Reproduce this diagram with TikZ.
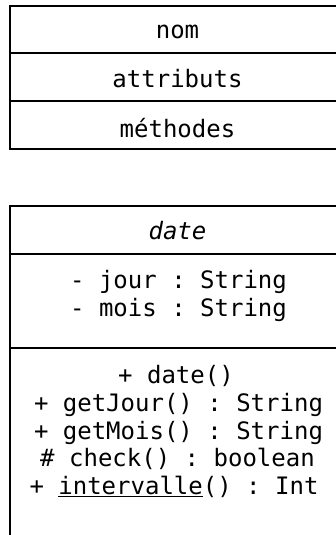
\documentclass[tikz,border=0pt]{standalone}
\usepackage{fontspec}
\setmonofont{DejaVu Sans Mono}
\begin{document}
\begin{tikzpicture}[x=1pt,y=-1pt,line width=2.3pt,
		txt/.style={anchor=base,inner sep=0pt,font=\fontsize{24}{28}\selectfont\ttfamily}]
	\useasboundingbox (0,0) rectangle (336,535);
	\clip (0,0) rectangle (336,535);
	% modele
	\draw (10,6) rectangle (345,149);
	\draw (10,53) -- (345,53);
	\draw (10,101) -- (345,101);
	\node[txt] (nom) at (177.5,39) {nom};
	\node[txt] (attr) at (177.5,88) {attributs};
	\node[txt] (meth) at (177.5,137) {méthodes};
	% classe date
	\draw (345,206) -- (10,206) -- (10,545);
	\draw (10,254) -- (345,254);
	\draw (10,348) -- (345,348);
	\node[txt] (date) at (177.5,239) {\itshape date};
	\node[txt] (jour) at (178.5,288) {- jour : String};
	\node[txt] (mois) at (178.5,316) {- mois : String};
	\node[txt] (cons) at (176,383) {+ date()};
	\node[txt] (gj) at (178.5,411) {+ getJour() : String};
	\node[txt] (gm) at (178.5,439) {+ getMois() : String};
	\node[txt] (chk) at (177.5,466) {\# check() : boolean};
	\node[txt] (itv) at (174,494) {+ \underline{intervalle}() : Int};
\end{tikzpicture}
\end{document}
